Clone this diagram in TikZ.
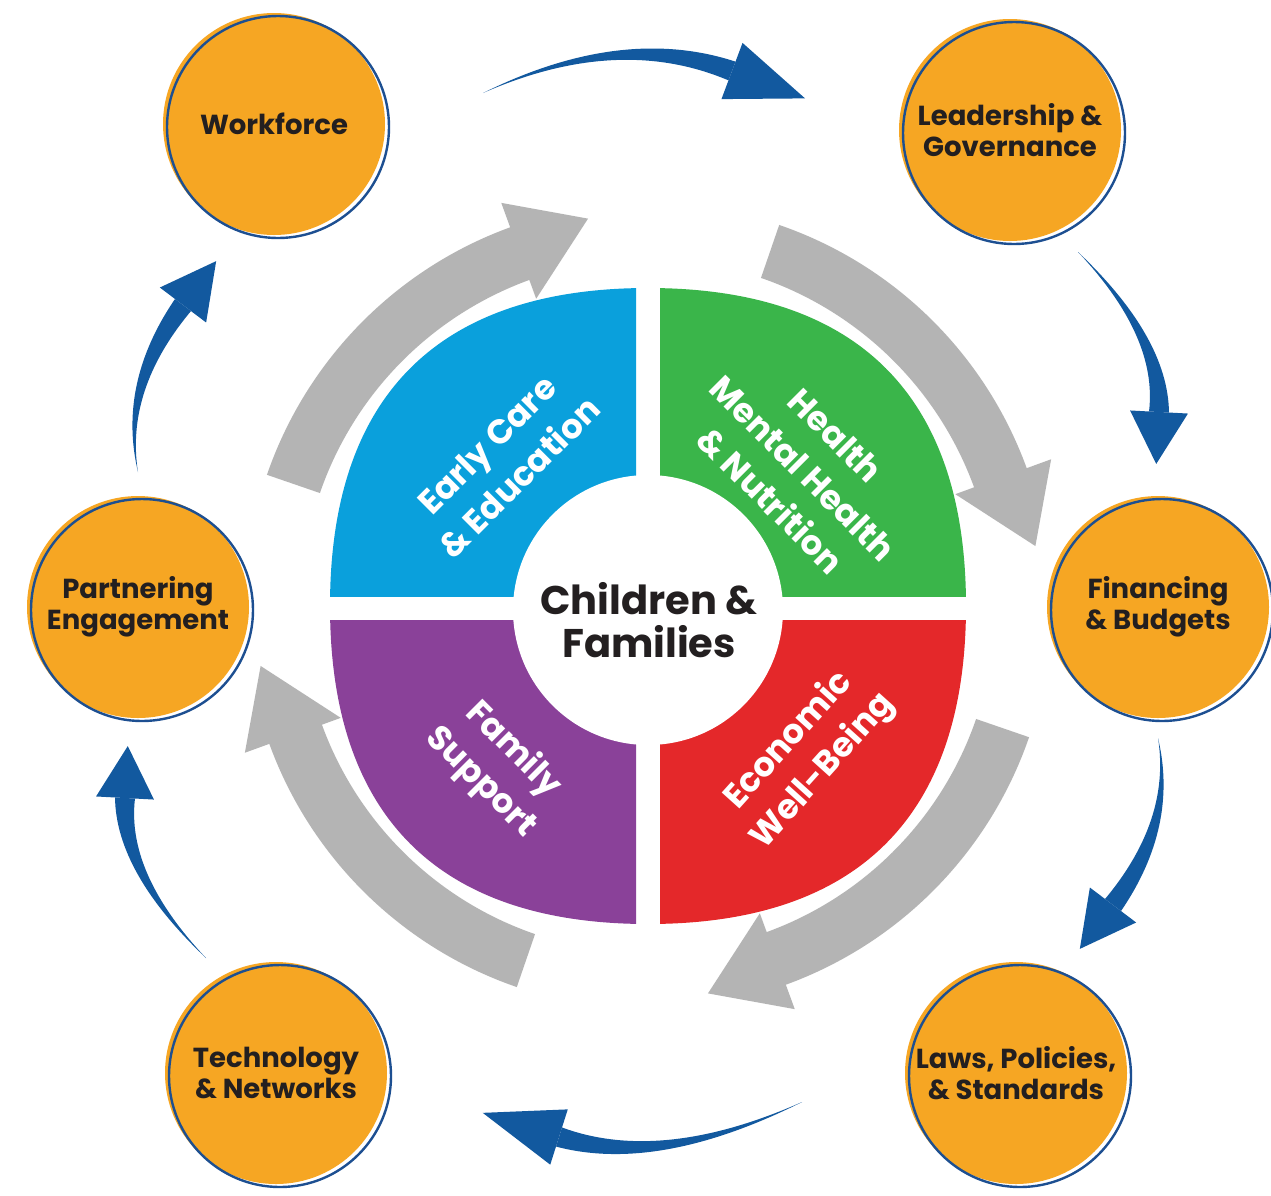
\documentclass[tikz,border=0pt]{standalone}
\usepackage{fontspec}
\setmainfont{Poppins}
\usetikzlibrary{calc}
\definecolor{qblue}{HTML}{0AA0DC}
\definecolor{qgreen}{HTML}{3AB54A}
\definecolor{qred}{HTML}{E4282A}
\definecolor{qpurple}{HTML}{8A4199}
\definecolor{corange}{HTML}{F6A623}
\definecolor{cline}{HTML}{1D4F91}
\definecolor{ablue}{HTML}{12599F}
\definecolor{agray}{HTML}{B4B4B4}
\definecolor{ctext}{HTML}{231F20}
\tikzset{
  circfill/.style={circle, fill=corange, minimum size=222pt, inner sep=0pt,
    text=ctext, align=center, font=\bfseries\fontsize{27.5}{31}\selectfont},
  circline/.style={draw=cline, line width=2.4pt},
  qlabel/.style={text=white, align=center, font=\bfseries\fontsize{34}{46}\selectfont},
  grayarrow/.style={fill=agray},
  bluefill/.style={fill=ablue}
}
% T, C, B, w/2, w/4, head half width, head length
\newcommand\bluearrow[7]{%
  \coordinate (ba-s1) at ($(#3)!#4!90:(#2)$);
  \coordinate (ba-s2) at ($(#3)!#4!-90:(#2)$);
  \coordinate (ba-c1) at ($(#2)!#5!-90:(#3)$);
  \coordinate (ba-c2) at ($(#2)!#5!90:(#3)$);
  \fill[bluefill] (#1) .. controls ($(#1)!0.6667!(ba-c1)$) and ($(ba-s1)!0.6667!(ba-c1)$) .. (ba-s1)
     -- (ba-s2) .. controls ($(ba-s2)!0.6667!(ba-c2)$) and ($(#1)!0.6667!(ba-c2)$) .. (#1) -- cycle;
  \fill[bluefill] ($(#3)!#6!90:(#2)$) -- ($(#3)!-#7!(#2)$) -- ($(#3)!#6!-90:(#2)$) -- cycle;
}
\begin{document}
\begin{tikzpicture}[x=1pt,y=-1pt]
\useasboundingbox (0,0) rectangle (1271,1195);
\fill[white] (0,0) rectangle (1271,1195);

% ---- central rounded disc split in four quadrants
\def\pieshape{(648,288) .. controls (438,288) and (330,396) .. (330,606)
  .. controls (330,816) and (438,924) .. (648,924)
  .. controls (858,924) and (966,816) .. (966,606)
  .. controls (966,396) and (858,288) .. (648,288) -- cycle}
\begin{scope}
  \clip (0,0) rectangle (636,596);
  \fill[qblue] \pieshape;
\end{scope}
\begin{scope}
  \clip (660,0) rectangle (1271,596);
  \fill[qgreen] \pieshape;
\end{scope}
\begin{scope}
  \clip (0,620) rectangle (636,1195);
  \fill[qpurple] \pieshape;
\end{scope}
\begin{scope}
  \clip (660,620) rectangle (1271,1195);
  \fill[qred] \pieshape;
\end{scope}
\fill[white] (648,610) circle (135);

% ---- gray cycle arrows
\foreach \r in {0,-90,-180,-270} {
  \begin{scope}[shift={(648,606)}, rotate=\r]
    \fill[grayarrow] (-161:403) arc[start angle=-161, end angle=-110, radius=403]
      -- (-110:429) -- (-98.8:392) -- (-110:327) -- (-110:347)
      arc[start angle=-110, end angle=-161, radius=347] -- cycle;
  \end{scope}
}

% ---- quadrant labels
\node[qlabel, rotate=45] (ece) at (503,461) {Early Care\\\& Education};
\node[qlabel, rotate=-45] (hmh) at (803,468) {Health\\Mental Health\\\& Nutrition};
\node[qlabel, rotate=48] (ewb) at (806,756) {Economic\\Well-Being};
\node[qlabel, rotate=-45] (fs) at (497,766) {Family\\Support};
\node[text=ctext, align=center, font=\bfseries\fontsize{40}{43}\selectfont] (cf) at (649,620) {Children \&\\Families};

% ---- orange circles
\node[circfill] (wf) at (274,124) {Workforce};
\node[circfill] (lg) at (1010,130) {Leadership \&\\Governance};
\node[circfill] (fb) at (1158,607) {Financing\\\& Budgets};
\node[circfill] (lp) at (1016,1073) {Laws, Policies,\\\& Standards};
\node[circfill] (tn) at (276,1073) {Technology\\\& Networks};
\node[circfill] (pe) at (138,607) {Partnering\\Engagement};
\foreach \n in {wf,lg,fb,lp,tn,pe} {
  \draw[circline] ($(\n)+(4,3)$) circle (111);
}

% ---- blue connectors between circles
\coordinate (t1) at (483,93);   \coordinate (c1) at (620,29);   \coordinate (b1) at (732,71);
\coordinate (t2) at (1078,252); \coordinate (c2) at (1163,337); \coordinate (b2) at (1159,412);
\coordinate (t3) at (1158,738); \coordinate (c3) at (1175,823); \coordinate (b3) at (1113,905);
\coordinate (t4) at (802,1102); \coordinate (c4) at (660,1169); \coordinate (b4) at (559,1137);
\coordinate (t5) at (206,958);  \coordinate (c5) at (121,873);  \coordinate (b5) at (125,798);
\coordinate (t6) at (138,472);  \coordinate (c6) at (121,387);  \coordinate (b6) at (183,305);
\bluearrow{t1}{c1}{b1}{10pt}{5pt}{30pt}{78pt}
\bluearrow{t2}{c2}{b2}{10pt}{5pt}{29pt}{52pt}
\bluearrow{t3}{c3}{b3}{10pt}{5pt}{29pt}{55pt}
\bluearrow{t4}{c4}{b4}{10pt}{5pt}{29pt}{80pt}
\bluearrow{t5}{c5}{b5}{10pt}{5pt}{29pt}{52pt}
\bluearrow{t6}{c6}{b6}{10pt}{5pt}{29pt}{55pt}
\end{tikzpicture}
\end{document}
